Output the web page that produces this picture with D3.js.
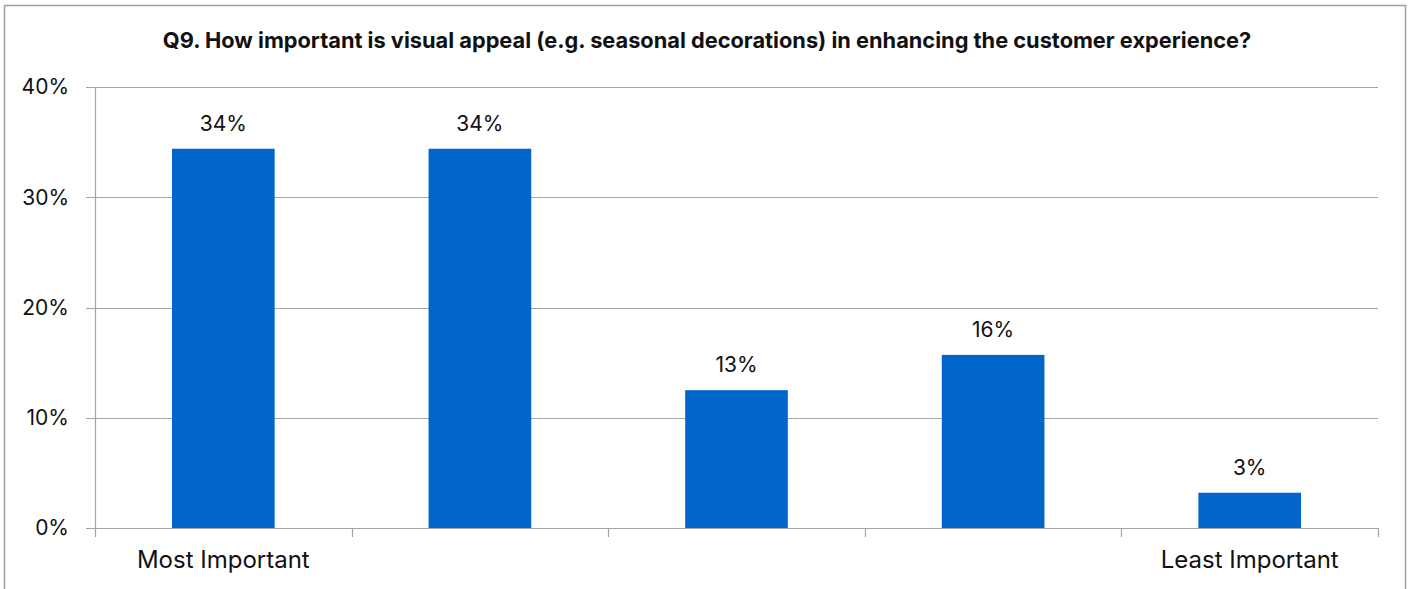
<!DOCTYPE html>
<html><head><meta charset="utf-8">
<script src="https://cdn.jsdelivr.net/npm/d3@7"></script>
<style>body{margin:0;background:#fff;}svg{display:block;}</style>
</head><body>
<svg id="chart" width="1412" height="589"></svg>
<script>
const categories = ["Most Important", "2", "3", "4", "Least Important"];
const categoryLabels = ["Most Important", "", "", "", "Least Important"];
const values = [34.4, 34.4, 12.5, 15.7, 3.2];
const dataLabels = ["34%", "34%", "13%", "16%", "3%"];
const yTicks = [0, 10, 20, 30, 40];
const yTickLabels = ["0%", "10%", "20%", "30%", "40%"];
const title = "Q9. How important is visual appeal (e.g. seasonal decorations) in enhancing the customer experience?";

const svg = d3.select("#chart");
const m = {left: 95, right: 1378, top: 87, bottom: 528};

svg.append("rect").attr("x", 4.5).attr("y", 5.5).attr("width", 1401).attr("height", 600)
  .attr("fill", "#fff").attr("stroke", "#a0a0a0").attr("stroke-width", 1.5);

const t = svg.append("text").attr("x", 707).attr("y", 48).attr("text-anchor", "middle")
  .attr("font-family", "Inter, sans-serif").attr("font-weight", "bold")
  .attr("font-size", 20).attr("fill", "#111").text(title);
const tw = t.node().getComputedTextLength();
t.attr("font-size", 20 * 1089 / tw);

const x = d3.scaleBand().domain(categories).range([m.left, m.right]).paddingInner(0.6).paddingOuter(0.3);
const xb = d3.scaleBand().domain(categories).range([m.left, m.right]);
const y = d3.scaleLinear().domain([0, 40]).range([m.bottom, m.top]);

svg.append("g").selectAll("line").data(yTicks).join("line")
  .attr("x1", m.left - 9).attr("x2", m.right)
  .attr("y1", d => Math.round(y(d)) + 0.5).attr("y2", d => Math.round(y(d)) + 0.5)
  .attr("stroke", "#a6a6a6").attr("stroke-width", 1.2);

svg.append("line").attr("x1", m.left + 0.5).attr("x2", m.left + 0.5)
  .attr("y1", m.top).attr("y2", m.bottom).attr("stroke", "#a6a6a6").attr("stroke-width", 1.2);

const bounds = categories.map(c => xb(c)).concat([m.right]);
svg.append("g").selectAll("line").data(bounds).join("line")
  .attr("x1", d => Math.round(d) + 0.5).attr("x2", d => Math.round(d) + 0.5)
  .attr("y1", m.bottom).attr("y2", m.bottom + 9)
  .attr("stroke", "#a6a6a6").attr("stroke-width", 1.2);

svg.append("g").selectAll("text").data(yTicks).join("text")
  .attr("x", 69).attr("y", d => y(d)).attr("dy", "0.35em").attr("text-anchor", "end")
  .attr("font-family", "Inter, sans-serif").attr("font-size", 21).attr("fill", "#111")
  .text((d, i) => yTickLabels[i]);

svg.append("g").selectAll("rect").data(values).join("rect")
  .attr("x", (d, i) => x(categories[i])).attr("width", x.bandwidth())
  .attr("y", d => y(d)).attr("height", d => y(0) - y(d))
  .attr("fill", "#0066cc");

svg.append("g").selectAll("text").data(values).join("text")
  .attr("x", (d, i) => x(categories[i]) + x.bandwidth() / 2).attr("y", d => y(d) - 18)
  .attr("text-anchor", "middle")
  .attr("font-family", "Inter, sans-serif").attr("font-size", 21).attr("fill", "#111")
  .text((d, i) => dataLabels[i]);

svg.append("g").selectAll("text").data(categories).join("text")
  .attr("x", d => xb(d) + xb.bandwidth() / 2).attr("y", 568)
  .attr("text-anchor", "middle")
  .attr("font-family", "Inter, sans-serif").attr("font-size", 24).attr("fill", "#111")
  .text((d, i) => categoryLabels[i]);
</script>
</body></html>
